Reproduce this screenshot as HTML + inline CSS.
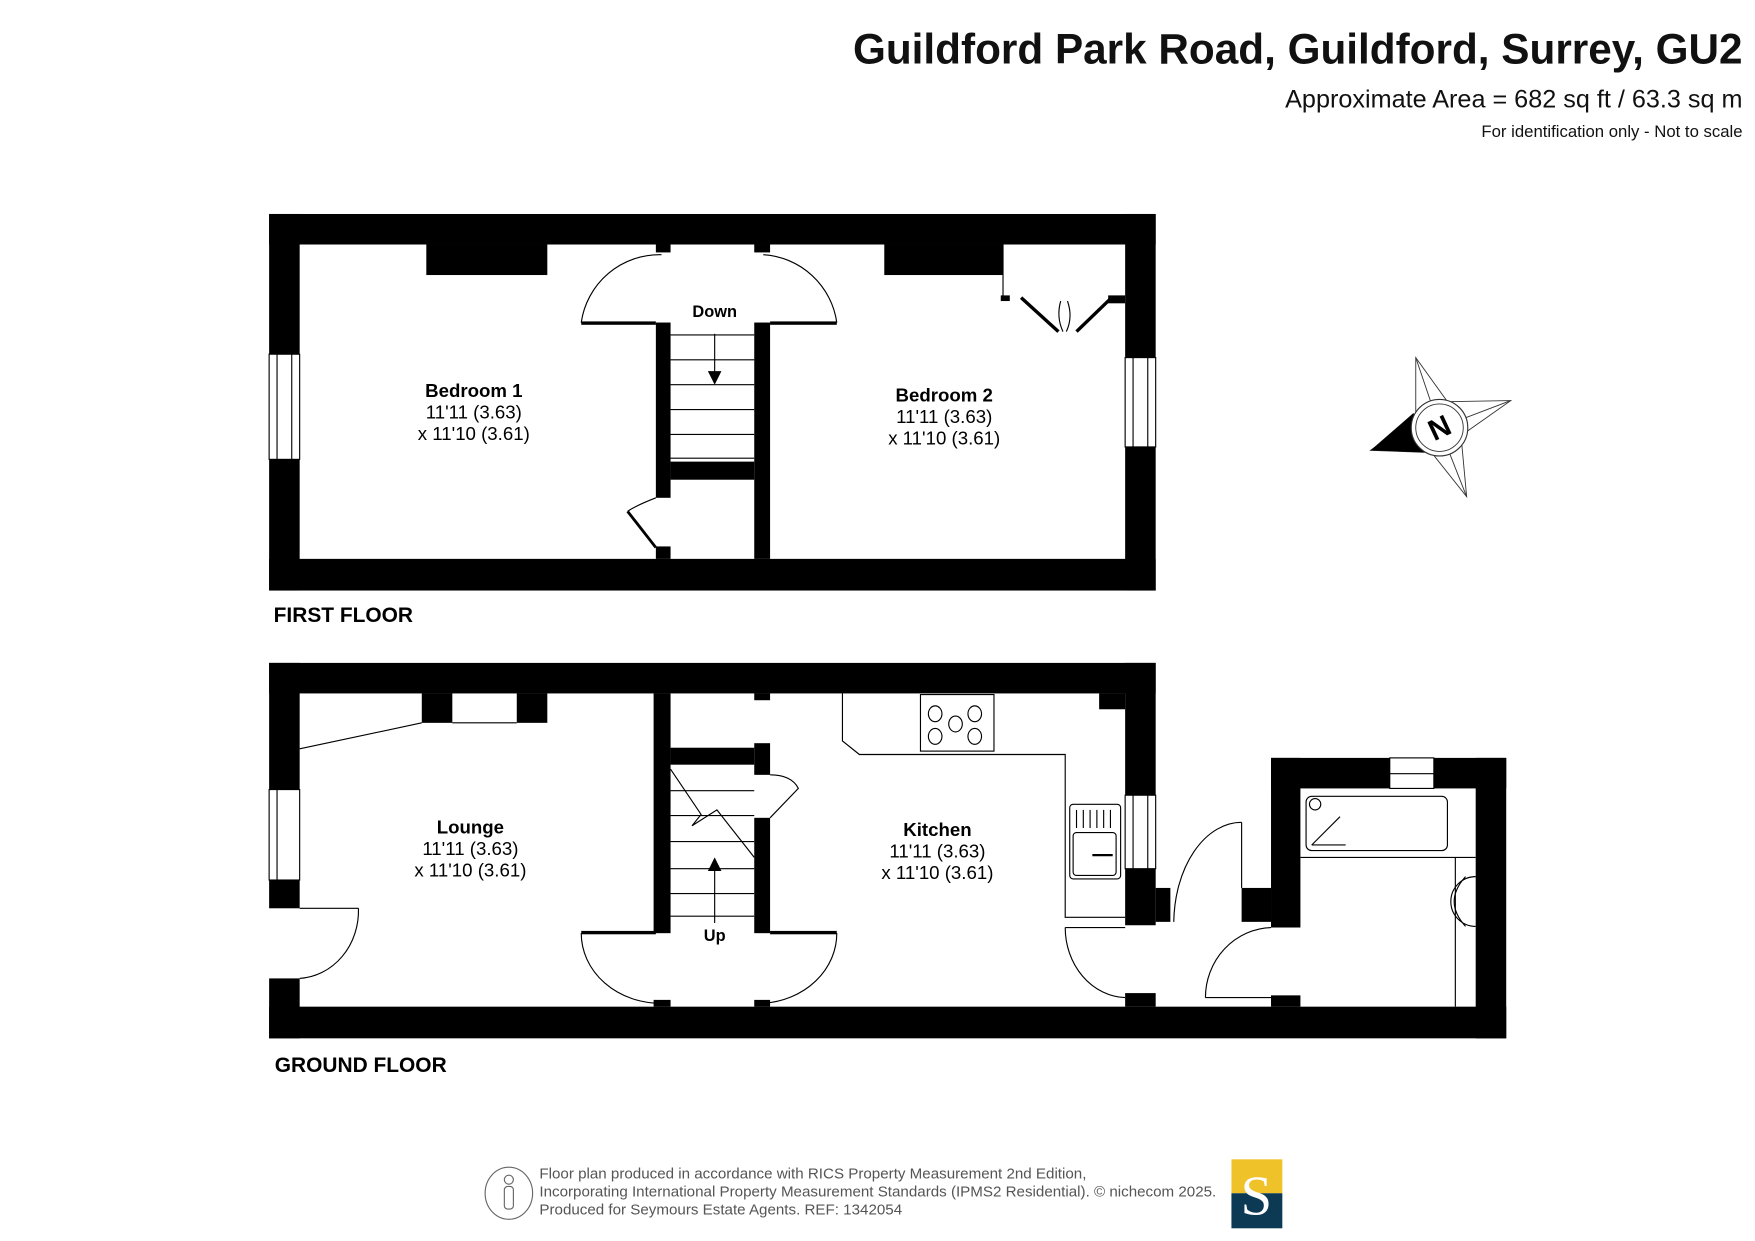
<!DOCTYPE html>
<html><head><meta charset="utf-8"><style>
html,body{margin:0;padding:0;background:#fff;}
svg{display:block;}
text{font-family:"Liberation Sans",Arial,sans-serif;}
</style></head><body>
<svg width="1755" height="1241" viewBox="0 0 1552 1097" xmlns="http://www.w3.org/2000/svg">
<rect width="1552" height="1097" fill="#fff"/>
<!-- Header -->
<text x="1541" y="56" text-anchor="end" font-size="37.4" font-weight="bold" fill="#111">Guildford Park Road, Guildford, Surrey, GU2</text>
<text x="1541" y="95" text-anchor="end" font-size="22.3" fill="#111">Approximate Area = 682 sq ft / 63.3 sq m</text>
<text x="1541" y="121" text-anchor="end" font-size="14.8" fill="#111">For identification only - Not to scale</text>

<!-- FIRST FLOOR -->
<g fill="#000">
<rect x="238" y="189" width="784" height="27"/>
<rect x="238" y="494" width="784" height="28"/>
<rect x="238" y="189" width="27" height="333"/>
<rect x="995" y="189" width="27" height="333"/>
<rect x="377" y="216" width="107" height="27"/>
<rect x="782" y="216" width="105" height="27"/>
<rect x="580" y="285" width="13" height="155"/>
<rect x="580" y="483" width="13" height="11"/>
<rect x="667" y="285" width="14" height="209"/>
<rect x="593" y="408" width="74" height="16"/>
<rect x="580" y="216" width="13" height="7"/>
<rect x="667" y="216" width="14" height="7"/>
<rect x="514" y="284" width="66" height="3"/>
<rect x="681" y="284" width="59" height="3"/>
<rect x="980" y="261" width="15" height="7"/>
<rect x="885" y="261" width="8" height="5"/>
</g>
<g fill="#fff" stroke="#000" stroke-width="1">
<rect x="238" y="313" width="27" height="93"/>
<rect x="995" y="316" width="27" height="79"/>
</g>
<line x1="245" y1="313" x2="245" y2="406" stroke="#000"/><line x1="258" y1="313" x2="258" y2="406" stroke="#000"/>
<line x1="1002" y1="316" x2="1002" y2="395" stroke="#000"/><line x1="1015" y1="316" x2="1015" y2="395" stroke="#000"/>
<g stroke="#000" stroke-width="1" fill="none">
<line x1="887" y1="216" x2="887" y2="262"/>
<path d="M585 225 A70 70 0 0 0 514 285"/>
<path d="M675 225 A70 70 0 0 1 740 285"/>
<line x1="593" y1="296" x2="667" y2="296"/>
<line x1="593" y1="318" x2="667" y2="318"/>
<line x1="593" y1="340" x2="667" y2="340"/>
<line x1="593" y1="362" x2="667" y2="362"/>
<line x1="593" y1="384" x2="667" y2="384"/>
<line x1="593" y1="405" x2="667" y2="405"/>
<line x1="632" y1="295" x2="632" y2="332"/>
<path d="M580 440 Q562 447 555 452"/>
<path d="M940 293 Q934 280 938 266 M943 293 Q949 280 944 266"/>
</g>
<polygon points="626,328 638,328 632,340" fill="#000"/>
<polyline points="555,452 580,484" stroke="#000" stroke-width="2.5" fill="none"/>
<polyline points="903,263 936,293" stroke="#000" stroke-width="3" fill="none"/>
<polyline points="983,263 952,293" stroke="#000" stroke-width="3" fill="none"/>
<text x="632" y="280" text-anchor="middle" font-size="14.5" font-weight="bold">Down</text>
<g text-anchor="middle" font-size="16.5">
<text x="419" y="351" font-weight="bold">Bedroom 1</text>
<text x="419" y="370">11'11 (3.63)</text>
<text x="419" y="389">x 11'10 (3.61)</text>
<text x="835" y="355" font-weight="bold">Bedroom 2</text>
<text x="835" y="374">11'11 (3.63)</text>
<text x="835" y="393">x 11'10 (3.61)</text>
</g>
<text x="242" y="550" font-size="18.5" font-weight="bold">FIRST FLOOR</text>

<!-- GROUND FLOOR -->
<g fill="#000">
<rect x="238" y="586" width="784" height="27"/>
<rect x="238" y="890" width="1094" height="28"/>
<rect x="238" y="586" width="27" height="217"/>
<rect x="238" y="865" width="27" height="53"/>
<rect x="373" y="613" width="27" height="26"/>
<rect x="457" y="613" width="27" height="26"/>
<rect x="578" y="613" width="15" height="212"/>
<rect x="514" y="823" width="66" height="3"/>
<rect x="681" y="823" width="59" height="3"/>
<rect x="667" y="613" width="14" height="6"/>
<rect x="667" y="657" width="14" height="28"/>
<rect x="667" y="723" width="14" height="102"/>
<rect x="593" y="661" width="74" height="15"/>
<rect x="578" y="884" width="15" height="6"/>
<rect x="667" y="884" width="14" height="6"/>
<rect x="995" y="586" width="27" height="117"/>
<rect x="972" y="613" width="23" height="14"/>
<rect x="995" y="768" width="27" height="50"/>
<rect x="1022" y="785" width="13" height="30"/>
<rect x="995" y="878" width="27" height="12"/>
<rect x="1124" y="670" width="208" height="27"/>
<rect x="1124" y="670" width="26" height="150"/>
<rect x="1305" y="670" width="27" height="248"/>
<rect x="1098" y="785" width="26" height="30"/>
<rect x="1124" y="880" width="26" height="10"/>
</g>
<rect x="1229" y="670" width="39" height="27" fill="#fff" stroke="#000"/>
<line x1="1229" y1="684" x2="1268" y2="684" stroke="#000"/>
<g fill="#fff" stroke="#000" stroke-width="1">
<rect x="238" y="698" width="27" height="80"/>
<rect x="995" y="703" width="27" height="65"/>
</g>
<line x1="245" y1="698" x2="245" y2="778" stroke="#000"/>
<line x1="1002" y1="703" x2="1002" y2="768" stroke="#000"/><line x1="1015" y1="703" x2="1015" y2="768" stroke="#000"/>
<g stroke="#000" stroke-width="1" fill="none">
<line x1="265" y1="662" x2="373" y2="639"/>
<line x1="400" y1="639" x2="457" y2="639"/>
<line x1="265" y1="803" x2="317" y2="803"/>
<path d="M317 803 A55 60 0 0 1 265 865"/>
<path d="M514 825 A70 62 0 0 0 585 887"/>
<path d="M740 825 A70 62 0 0 1 675 887"/>
<line x1="632" y1="759" x2="632" y2="816"/>
<line x1="593" y1="699" x2="667" y2="699"/>
<line x1="593" y1="721" x2="667" y2="721"/>
<line x1="593" y1="744" x2="667" y2="744"/>
<line x1="593" y1="768" x2="667" y2="768"/>
<line x1="593" y1="790" x2="667" y2="790"/>
<line x1="593" y1="810" x2="667" y2="810"/>
<polyline points="593,680 620,720 612,730 634,716 667,758"/>
<path d="M681 685 Q700 685 706 697 L681 723"/>
<polyline points="745,613 745,655 760,667 942,667 942,811 995,811"/>
<rect x="814" y="614" width="65" height="50"/>
<ellipse cx="827" cy="631" rx="6" ry="7"/><ellipse cx="862" cy="631" rx="6" ry="7"/>
<ellipse cx="845" cy="640" rx="6" ry="7"/>
<ellipse cx="827" cy="651" rx="6" ry="7"/><ellipse cx="862" cy="651" rx="6" ry="7"/>
<rect x="946" y="711" width="45" height="66" rx="3"/>
<rect x="949" y="736" width="38" height="38" rx="3"/>
<line x1="942" y1="820" x2="995" y2="820"/>
<path d="M942 820 A55 62 0 0 0 995 882"/>
<path d="M1098 727 A60 90 0 0 0 1038 815"/>
<line x1="1098" y1="727" x2="1098" y2="785"/>
<path d="M1124 820 A60 62 0 0 0 1066 882"/>
<line x1="1066" y1="882" x2="1124" y2="882"/>
<line x1="1150" y1="758" x2="1305" y2="758"/>
<line x1="1287" y1="758" x2="1287" y2="890"/>
<rect x="1155" y="704" width="125" height="48" rx="5"/>
<line x1="1160" y1="747" x2="1190" y2="747"/><line x1="1160" y1="747" x2="1185" y2="722"/>
<circle cx="1163" cy="711" r="5"/>
<path d="M1305 775 A22 22 0 0 0 1305 819 M1296 775 Q1276 797 1296 819"/>
</g>
<g stroke="#000" fill="none" stroke-width="1">
<line x1="952" y1="716" x2="952" y2="732"/><line x1="958" y1="716" x2="958" y2="732"/><line x1="964" y1="716" x2="964" y2="732"/><line x1="970" y1="716" x2="970" y2="732"/><line x1="976" y1="716" x2="976" y2="732"/><line x1="982" y1="716" x2="982" y2="732"/>
<line x1="966" y1="756" x2="984" y2="756" stroke-width="2"/>
</g>
<polygon points="626,770 638,770 632,758" fill="#000"/>
<text x="632" y="832" text-anchor="middle" font-size="14.5" font-weight="bold">Up</text>
<g text-anchor="middle" font-size="16.5">
<text x="416" y="737" font-weight="bold">Lounge</text>
<text x="416" y="756">11'11 (3.63)</text>
<text x="416" y="775">x 11'10 (3.61)</text>
<text x="829" y="739" font-weight="bold">Kitchen</text>
<text x="829" y="758">11'11 (3.63)</text>
<text x="829" y="777">x 11'10 (3.61)</text>
</g>
<text x="243" y="948" font-size="18.5" font-weight="bold">GROUND FLOOR</text>

<!-- Compass -->
<g stroke="#333" stroke-width="0.8" fill="#fff">
<path d="M1252,316 L1280,355 L1336,354 L1292,385 L1297,439 L1266,400 L1212,398 L1252,370 Z"/>
<line x1="1252" y1="316" x2="1273" y2="378"/><line x1="1336" y1="354" x2="1273" y2="378"/><line x1="1297" y1="439" x2="1273" y2="378"/>
</g>
<polygon points="1212,398 1250,365 1262,400" fill="#000"/>
<circle cx="1273" cy="378" r="25" fill="#fff" stroke="#333"/>
<circle cx="1273" cy="378" r="21" fill="none" stroke="#333" stroke-width="0.8"/>
<text x="1273" y="387" text-anchor="middle" font-size="26" font-weight="bold" transform="rotate(-25 1273 378)">N</text>

<!-- Footer -->
<ellipse cx="450" cy="1055" rx="21" ry="23" fill="none" stroke="#666"/>
<circle cx="450" cy="1043" r="4" fill="none" stroke="#666"/>
<rect x="446" y="1049" width="8" height="20" rx="3" fill="none" stroke="#666"/>
<g font-size="13.4" fill="#555">
<text x="477" y="1042">Floor plan produced in accordance with RICS Property Measurement 2nd Edition,</text>
<text x="477" y="1058">Incorporating International Property Measurement Standards (IPMS2 Residential).   © nichecom 2025.</text>
<text x="477" y="1074">Produced for Seymours Estate Agents.   REF: 1342054</text>
</g>
<rect x="1089" y="1025" width="45" height="30" fill="#f0c22a"/>
<rect x="1089" y="1055" width="45" height="31" fill="#0c3a55"/>
<text x="1111" y="1074" text-anchor="middle" font-size="50" fill="#fff" style="font-family:'Liberation Serif',serif">S</text>
</svg>
</body></html>
